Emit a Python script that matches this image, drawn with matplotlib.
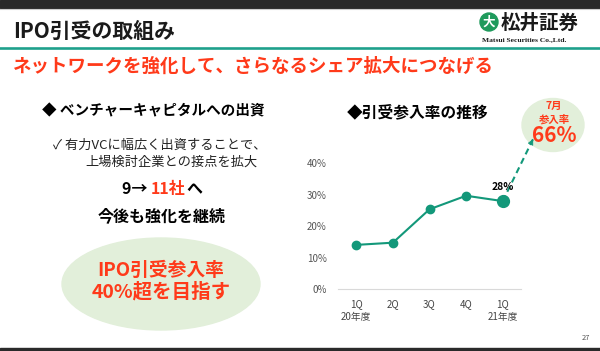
import matplotlib
matplotlib.use("Agg")
import matplotlib.pyplot as plt
from matplotlib.patches import Ellipse, Rectangle, Circle

plt.rcParams['font.family'] = ['Noto Sans CJK JP', 'DejaVu Sans']

# chart data
quarters = ['1Q\n20年度', '2Q', '3Q', '4Q', '1Q\n21年度']
rates = [14.1, 14.8, 25.4, 29.7, 28]
y_ticks = [0, 10, 20, 30, 40]
july_rate = 66

RED = '#ff3a1a'
TEAL = '#13987a'
PALE = '#e2efda'

fig = plt.figure(figsize=(6, 3.51), dpi=100)

# background layer in pixel coords
bg = fig.add_axes([0, 0, 1, 1])
bg.set_xlim(0, 600)
bg.set_ylim(351, 0)
bg.axis('off')

# header bars
bg.add_patch(Rectangle((0, 0), 600, 7.5, color='#2a2a2a'))
bg.plot([0, 600], [9, 9], color='#cfcfcf', lw=0.8)
bg.plot([0, 600], [47.5, 47.5], color='#1fa08c', lw=1.9)
bg.add_patch(Rectangle((0, 347.5), 600, 4, color='#2a2a2a'))

bg.text(13, 31, 'IPO引受の取組み', fontsize=15, fontweight='bold', color='#1a1a1a', va='center')
bg.text(13, 66, 'ネットワークを強化して、さらなるシェア拡大につなげる', fontsize=13.3,
        fontweight='bold', color=RED, va='center')

# logo
bg.add_patch(Circle((489, 22), 9, color='#1f9a5c'))
bg.text(489, 22.5, '大', fontsize=9, fontweight='bold', color='white', ha='center', va='center')
bg.text(501, 23, '松井証券', fontsize=14, fontweight='bold', color='#1a1a1a', va='center')
bg.text(482, 40, 'Matsui Securities Co.,Ltd.', fontsize=5.4, fontweight='bold',
        family='Liberation Serif', color='#1a1a1a', va='center')
bg.text(590, 338, '27', fontsize=5.5, color='#555555', ha='right', va='center')

# left block
bg.text(42, 110, '◆ ベンチャーキャピタルへの出資', fontsize=10.5, fontweight='bold', va='center')
bg.text(53, 145, '✓ 有力VCに幅広く出資することで、', fontsize=9.5, va='center', color='#222222')
bg.text(85, 162, '上場検討企業との接点を拡大', fontsize=9.5, va='center', color='#222222')

# "9→ 11社へ" with the middle part in red
renderer = fig.canvas.get_renderer()
parts = [('9→ ', 'black'), ('11社', RED), ('へ', 'black')]
texts = []
widths = []
for s, c in parts:
    t = bg.text(0, 189, s, fontsize=11.5, fontweight='bold', color=c, va='center')
    texts.append(t)
    widths.append(t.get_window_extent(renderer).width)
x = 162 - sum(widths) / 2
for t, w in zip(texts, widths):
    t.set_x(x)
    x += w

bg.text(162, 216, '今後も強化を継続', fontsize=11.5, fontweight='bold', ha='center', va='center')

bg.add_patch(Ellipse((161, 284), 198, 92, color=PALE))
bg.text(161, 270, 'IPO引受参入率', fontsize=13.5, fontweight='bold', color=RED, ha='center', va='center')
bg.text(161, 292, '40%超を目指す', fontsize=14, fontweight='bold', color=RED, ha='center', va='center')

# right block
bg.text(347, 112, '◆引受参入率の推移', fontsize=11.3, fontweight='bold', va='center')
bg.add_patch(Ellipse((553, 125), 62, 53, color=PALE))
bg.text(554, 106, '7月', fontsize=7.5, fontweight='bold', color=RED, ha='center', va='center')
bg.text(554, 119, '参入率', fontsize=7.5, fontweight='bold', color=RED, ha='center', va='center')
bg.text(554, 136, f'{july_rate}%', fontsize=15, fontweight='bold', color=RED, ha='center', va='center')

# line chart
ax = fig.add_axes([338 / 600, 1 - 289.3 / 351, 183 / 600, 157.5 / 351])
ax.patch.set_alpha(0)
ax.set_xlim(-0.5, 4.5)
ax.set_ylim(0, 50)
xs = list(range(len(quarters)))
ax.plot(xs, rates, color=TEAL, lw=1.5, marker='o', ms=6, clip_on=False, zorder=3)
ax.plot(xs[-1], rates[-1], 'o', color=TEAL, ms=8.5, clip_on=False, zorder=4)
ax.text(xs[-1], rates[-1] + 4.5, f'{round(rates[-1])}%', fontsize=7.5, fontweight='bold',
        ha='center', va='center')

# dashed arrow to the July bubble
tip = (4.83, 47.7)
ax.plot([xs[-1], tip[0]], [rates[-1], tip[1]], color=TEAL, lw=1.5, ls=(0, (3, 2)), clip_on=False)
ax.annotate('', xy=tip, xytext=(tip[0] - 0.05, tip[1] - 1.2),
            arrowprops=dict(arrowstyle='-|>', color=TEAL, lw=0.5, mutation_scale=9),
            annotation_clip=False)

ax.set_xticks(xs)
ax.set_xticklabels(quarters, fontsize=7, color='#444444', linespacing=1.35)
ax.set_yticks(y_ticks)
ax.set_yticklabels([f'{v}%' for v in y_ticks], fontsize=7, color='#555555')
ax.tick_params(length=0)
ax.tick_params(axis='y', pad=8)
ax.tick_params(axis='x', pad=7)
for s in ['top', 'right', 'left']:
    ax.spines[s].set_visible(False)
ax.spines['bottom'].set_color('#d9d9d9')

fig.savefig('out.png', dpi=100)
